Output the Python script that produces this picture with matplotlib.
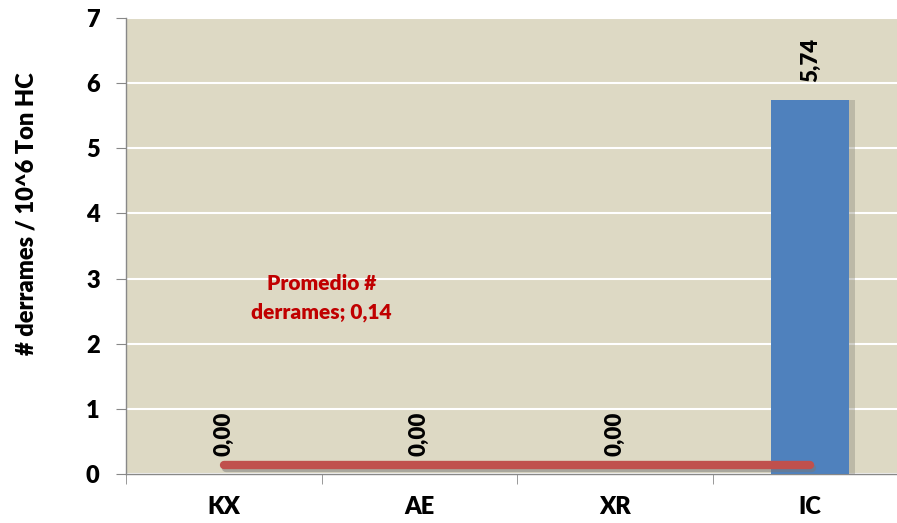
import matplotlib
matplotlib.use("Agg")
import matplotlib.pyplot as plt
import matplotlib.patheffects as pe

categories = ["KX", "AE", "XR", "IC"]
values = [0.00, 0.00, 0.00, 5.74]
average = 0.14
value_labels = ["0,00", "0,00", "0,00", "5,74"]
avg_label = "Promedio #\nderrames; 0,14"
y_label = "# derrames / 10^6 Ton HC"

plt.rcParams["font.family"] = ["Lato", "DejaVu Sans"]
plt.rcParams["font.weight"] = "heavy"

fig = plt.figure(figsize=(8.97, 5.23), dpi=100)
ax = fig.add_axes([126 / 897, 49 / 523, 782 / 897, 456 / 523])
ax.set_facecolor("#ddd9c4")

x = list(range(len(categories)))

# bars with a soft shadow to the right
ax.bar([i + 0.03 for i in x], values, width=0.4, color="#8c8a7c", alpha=0.4, zorder=2)
ax.bar(x, values, width=0.4, color="#4f81bd", zorder=3)

# average line
ax.plot([x[0], x[-1]], [average, average], color="#c0504d", lw=6,
        solid_capstyle="round", zorder=4,
        path_effects=[pe.SimpleLineShadow(offset=(1.5, -2.5), shadow_color="#777", alpha=0.5),
                      pe.Normal()])

for i, (v, lab) in enumerate(zip(values, value_labels)):
    ax.text(i, v + 0.27, lab, rotation=90, ha="center", va="bottom",
            fontsize=16, fontweight="heavy", color="black", zorder=5)

ax.text(0.5, 2.7, avg_label, ha="center", va="center", color="#c00000",
        fontsize=15, fontweight="heavy", linespacing=1.6, zorder=5)

ax.set_xlim(-0.5, 3.5)
ax.set_ylim(0, 7)
ax.set_yticks(range(0, 8))
ax.set_yticklabels([str(t) for t in range(0, 8)], fontsize=17, fontweight="heavy")
ax.set_xticks(x)
ax.set_xticklabels(categories, fontsize=17, fontweight="heavy")
ax.tick_params(axis="x", length=0, pad=16)
ax.set_xticks([i + 0.5 for i in range(-1, 3)], minor=True)
ax.tick_params(axis="x", which="minor", length=7, color="#888888", direction="out")
ax.tick_params(axis="y", length=7, color="#888888", direction="out", pad=12)

ax.grid(axis="y", color="white", lw=1.5, zorder=1)
ax.set_axisbelow(True)
for side in ["top", "right"]:
    ax.spines[side].set_visible(False)
for side in ["left", "bottom"]:
    ax.spines[side].set_color("#888888")
    ax.spines[side].set_linewidth(1)

ax.set_ylabel(y_label, fontsize=17, fontweight="heavy")
ax.yaxis.set_label_coords(-0.113, 0.572)

fig.savefig("out.png", dpi=100)
